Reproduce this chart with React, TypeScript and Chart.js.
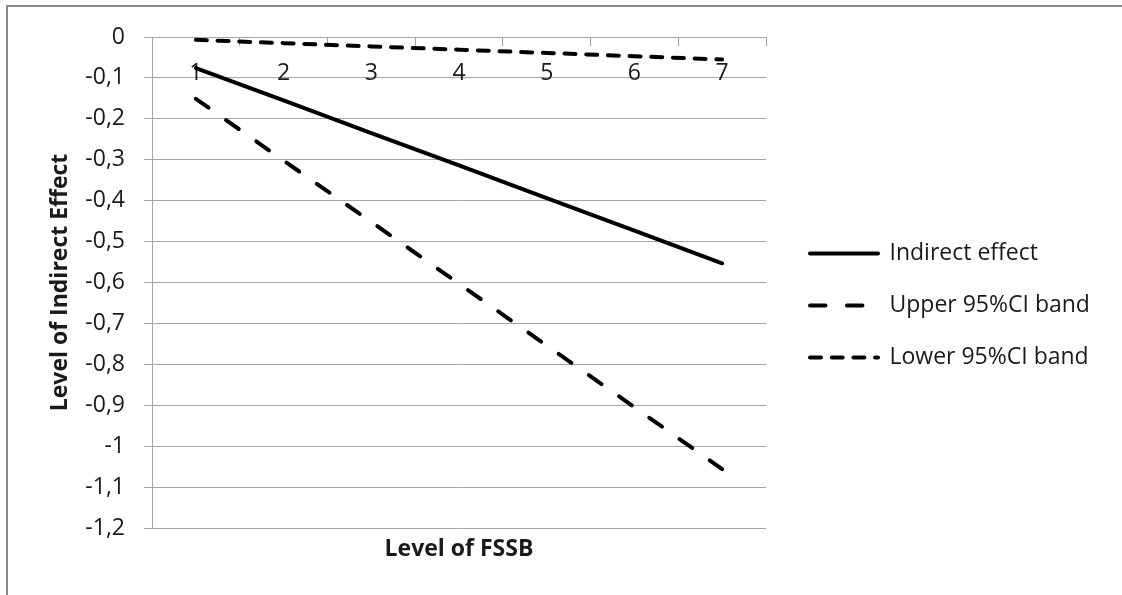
import React, { useEffect, useRef } from 'react';
import { Chart, registerables } from 'chart.js';

Chart.register(...registerables);

// ---------- data ----------
const categories = ['1', '2', '3', '4', '5', '6', '7'];
const indirectEffect = [-0.076, -0.155, -0.235, -0.314, -0.394, -0.473, -0.553];
const upperBand = [-0.151, -0.302, -0.452, -0.603, -0.754, -0.905, -1.056];
const lowerBand = [-0.007, -0.015, -0.023, -0.031, -0.039, -0.047, -0.055];
const seriesNames = ['Indirect effect', 'Upper 95%CI band', 'Lower 95%CI band'];
const xTitle = 'Level of FSSB';
const yTitle = 'Level of Indirect Effect';
const yMin = -1.2;
const yMax = 0;
const yStep = 0.1;

// ---------- styles ----------
const FONT = '"Open Sans", "Liberation Sans", sans-serif';
const FS = 23;
const TEXT = '#1a1a1a';
const GRID = '#a6a6a6';
const BORDER = '#8c8c8c';
const LEGEND_PAD = 29;
const SAMPLE_W = 68;
const SPACER_W = 15;

const fmtTick = (v: number) => String(Number(Number(v).toFixed(1))).replace('.', ',');

const borderPlugin = {
  id: 'outerBorder',
  beforeDraw(chart: any) {
    const ctx = chart.ctx;
    ctx.save();
    ctx.fillStyle = '#ffffff';
    ctx.fillRect(0, 0, chart.width, chart.height);
    ctx.strokeStyle = BORDER;
    ctx.lineWidth = 2;
    ctx.strokeRect(7, 6, chart.width + 50, chart.height + 50);
    ctx.restore();
  },
};

export default function App() {
  const canvasRef = useRef<HTMLCanvasElement | null>(null);

  useEffect(() => {
    if (!canvasRef.current) return;
    Chart.defaults.font.family = FONT;

    // measure legend text so that the plot area ends where the reference's does
    const mctx = document.createElement('canvas').getContext('2d') as CanvasRenderingContext2D;
    mctx.font = `${FS}px ${FONT}`;
    const maxText = Math.max(...seriesNames.map((s) => mctx.measureText(s).width));
    const legendW = LEGEND_PAD + SAMPLE_W + FS / 2 + maxText + 10;
    const padRight = Math.max(0, 1122 - 766 - SPACER_W - legendW);

    const dashes = [[], [15.5, 21.46], [11, 10.7]];
    const values = [indirectEffect, upperBand, lowerBand];
    const chart = new Chart(canvasRef.current, {
      type: 'line',
      data: {
        labels: categories,
        datasets: values.map((d, i) => ({
          label: seriesNames[i],
          data: d,
          borderColor: '#000000',
          backgroundColor: '#000000',
          borderWidth: 4,
          borderDash: dashes[i],
          borderCapStyle: 'round',
          pointRadius: 0,
          pointHoverRadius: 0,
          tension: 0,
          fill: false,
        })),
      },
      options: {
        animation: false,
        responsive: false,
        events: [],
        layout: { padding: { top: 16, bottom: 0, left: 0, right: padRight } },
        scales: {
          x: {
            type: 'category',
            position: { y: 0 } as any,
            offset: true,
            grid: {
              offset: true,
              drawOnChartArea: false,
              drawTicks: true,
              tickLength: 8,
              color: GRID,
              lineWidth: 1,
            },
            border: { display: true, color: GRID, width: 1 },
            ticks: {
              color: TEXT,
              font: { family: FONT, size: FS },
              padding: 15,
              maxRotation: 0,
              autoSkip: false,
            },
          },
          y: {
            type: 'linear',
            position: 'left',
            min: yMin,
            max: yMax,
            title: {
              display: true,
              text: yTitle,
              color: TEXT,
              font: { family: FONT, size: FS, weight: 'bold', lineHeight: 1.2 },
              padding: { top: 47, bottom: 0 },
            },
            ticks: {
              stepSize: yStep,
              padding: 19,
              color: TEXT,
              font: { family: FONT, size: FS },
              callback: (v: any) => fmtTick(v),
            },
            grid: { color: GRID, tickLength: 8, drawTicks: true, lineWidth: 1 },
            border: { display: true, color: GRID, width: 1 },
            afterFit: (s: any) => {
              s.width = 152;
            },
          },
          spacer: {
            type: 'linear',
            position: 'right',
            display: true,
            grid: { display: false },
            ticks: { display: false },
            border: { display: false },
            afterFit: (s: any) => {
              s.width = SPACER_W;
            },
          },
        },
        plugins: {
          legend: {
            position: 'right',
            align: 'center',
            maxWidth: 1000,
            labels: {
              usePointStyle: true,
              pointStyle: 'line',
              pointStyleWidth: SAMPLE_W,
              padding: LEGEND_PAD,
              color: TEXT,
              font: { family: FONT, size: FS },
              generateLabels: (c: any) =>
                c.data.datasets.map((ds: any, i: number) => ({
                  text: ds.label,
                  fillStyle: '#000000',
                  strokeStyle: '#000000',
                  fontColor: TEXT,
                  lineWidth: 4,
                  lineDash: ds.borderDash || [],
                  lineCap: 'round',
                  pointStyle: 'line',
                  hidden: false,
                  datasetIndex: i,
                })),
            },
          },
          title: {
            display: true,
            text: '',
            padding: { top: 5.5, bottom: 5.5 },
            font: { size: 10, lineHeight: 1 },
          },
          subtitle: {
            display: true,
            position: 'bottom',
            fullSize: false,
            text: xTitle,
            color: TEXT,
            font: { family: FONT, size: FS, weight: 'bold', lineHeight: 1.2 },
            padding: { top: 7.2, bottom: 32.2 },
          },
          tooltip: { enabled: false },
        },
      } as any,
      plugins: [borderPlugin],
    });
    return () => chart.destroy();
  }, []);

  return (
    <div style={{ position: 'absolute', left: 0, top: 0, width: 1122, height: 595 }}>
      <canvas ref={canvasRef} width={1122} height={595} style={{ display: 'block' }} />
    </div>
  );
}
